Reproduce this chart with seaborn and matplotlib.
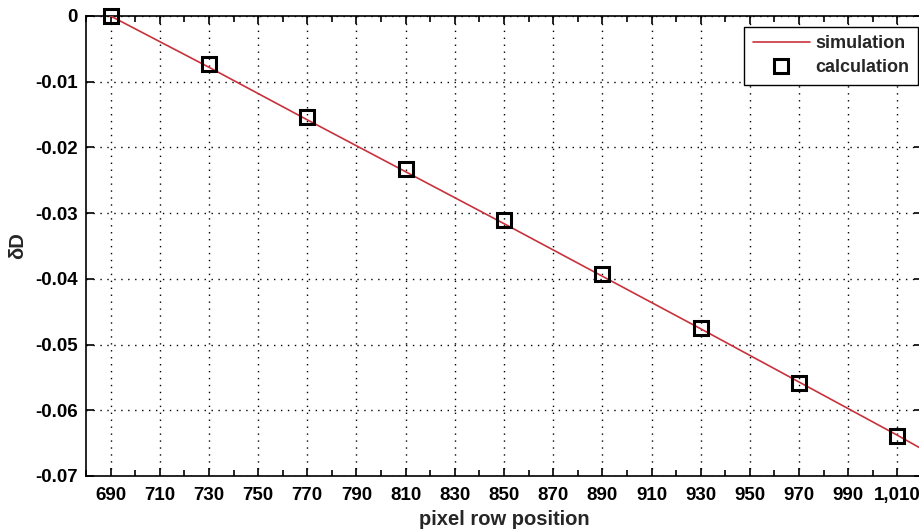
import matplotlib
matplotlib.use("Agg")
import matplotlib.pyplot as plt
import matplotlib.ticker as mticker
import seaborn as sns
import pandas as pd

# simulated curve
sim_x = [690, 730, 770, 810, 850, 890, 930, 970, 1010, 1020]
sim_y = [0.0, -0.0078, -0.0158, -0.0237, -0.0316, -0.0396, -0.0476, -0.0557, -0.0638, -0.0659]

# calculated points
calc_x = [690, 730, 770, 810, 850, 890, 930, 970, 1010]
calc_y = [0.0, -0.0073, -0.0154, -0.0233, -0.0310, -0.0393, -0.0475, -0.0558, -0.0639]

x_ticks = list(range(690, 1011, 20))
y_ticks = [0, -0.01, -0.02, -0.03, -0.04, -0.05, -0.06, -0.07]

sns.set_style("ticks")
plt.rcParams["font.family"] = ["Liberation Sans", "DejaVu Sans"]
plt.rcParams["font.weight"] = "bold"

fig = plt.figure(figsize=(9.19, 5.31), dpi=100)
ax = fig.add_axes([86 / 919, 55 / 531, 836 / 919, 460 / 531])

sim = pd.DataFrame({"x": sim_x, "y": sim_y})
calc = pd.DataFrame({"x": calc_x, "y": calc_y})

sns.lineplot(data=sim, x="x", y="y", ax=ax, color="#c8323c", lw=1.2,
             label="simulation", zorder=3)
ax.plot(calc["x"], calc["y"], linestyle="none", marker="s", markersize=10,
        markerfacecolor="none", markeredgecolor="black", markeredgewidth=2.2,
        label="calculation", zorder=4, clip_on=False)

ax.set_xlim(680, 1020)
ax.set_ylim(-0.07, 0)
ax.set_xticks(x_ticks)
ax.xaxis.set_minor_locator(mticker.MultipleLocator(10))
ax.xaxis.set_major_formatter(mticker.FuncFormatter(lambda v, p: f"{int(v):,}"))
ax.set_yticks(y_ticks)
ax.yaxis.set_major_formatter(mticker.FuncFormatter(lambda v, p: "0" if abs(v) < 1e-9 else f"{v:.2f}"))

ax.grid(True, which="major", linestyle=(0, (1, 4)), color="black", lw=1.0)
ax.tick_params(which="both", direction="in", top=True, right=True,
               labelsize=13.5, width=1.2, colors="black")
ax.tick_params(axis="x", which="major", pad=8)
ax.tick_params(axis="y", which="major", pad=6)
ax.tick_params(which="major", length=6)
ax.tick_params(which="minor", length=4)
for s in ax.spines.values():
    s.set_linewidth(1.2)
    s.set_color("black")
    s.set_visible(True)

ax.set_xlabel("pixel row position", fontsize=14.5, fontweight="bold", labelpad=4)
ax.set_ylabel("δD", fontsize=14.5, fontweight="bold", labelpad=6)

leg = ax.legend(loc="upper right", bbox_to_anchor=(0.995, 0.976),
                frameon=True, fancybox=False, edgecolor="black",
                borderpad=0.45, borderaxespad=0.0, handlelength=3.2,
                handletextpad=0.3, labelspacing=0.4,
                prop={"weight": "bold", "size": 13})
leg.get_frame().set_linewidth(1.0)
leg.get_frame().set_alpha(1)

fig.savefig("out.png", dpi=100)
